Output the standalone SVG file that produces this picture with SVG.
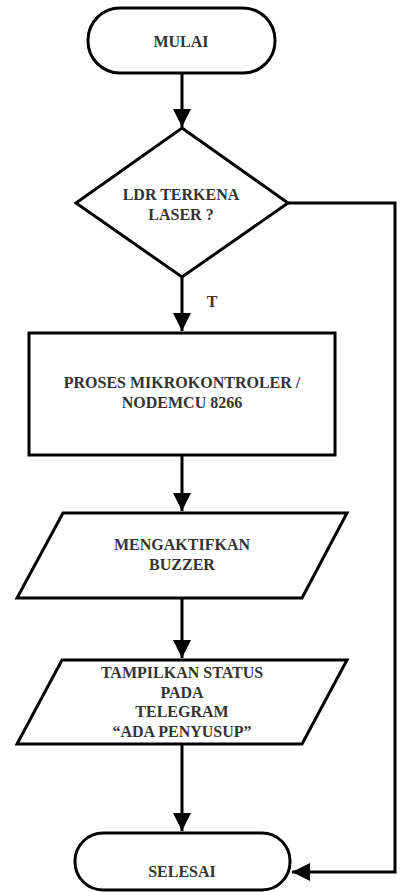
<svg xmlns="http://www.w3.org/2000/svg" width="403" height="892" viewBox="0 0 403 892">
<style>
.s{fill:#fff;stroke:#000;stroke-width:3;stroke-linejoin:miter}
.t{font-family:"Liberation Serif","Times New Roman",serif;font-weight:bold;font-size:16px;fill:#333;text-anchor:middle}
.c{fill:none;stroke:#000;stroke-width:3}
</style>
<defs>
<marker id="ah" markerWidth="6" markerHeight="6" refX="6" refY="3" orient="auto" markerUnits="strokeWidth">
<path d="M0,0 L6,3 L0,6 Z" fill="#000"/>
</marker>
</defs>
<rect width="403" height="892" fill="#fff"/>
<g id="connectors">
<line class="c" x1="182" y1="73" x2="182" y2="127" marker-end="url(#ah)"/>
<line class="c" x1="182" y1="277" x2="182" y2="331" marker-end="url(#ah)"/>
<line class="c" x1="182" y1="455" x2="182" y2="511" marker-end="url(#ah)"/>
<line class="c" x1="182" y1="598" x2="182" y2="658" marker-end="url(#ah)"/>
<line class="c" x1="182" y1="744" x2="182" y2="831" marker-end="url(#ah)"/>
<polyline class="c" points="288,203 395,203 395,872 292,872" marker-end="url(#ah)"/>
<text class="t" x="212" y="307">T</text>
</g>
<g id="mulai">
<rect class="s" x="88" y="8" width="187" height="65" rx="32"/>
<text class="t" x="181" y="47">MULAI</text>
</g>
<g id="decision">
<polygon class="s" points="182,128 288,203 182,277 76,203"/>
<text class="t" x="181" y="200">LDR TERKENA</text>
<text class="t" x="181" y="220">LASER ?</text>
</g>
<g id="proses">
<rect class="s" x="29" y="333" width="306" height="122"/>
<text class="t" x="182" y="388">PROSES MIKROKONTROLER /</text>
<text class="t" x="182" y="408">NODEMCU 8266</text>
</g>
<g id="buzzer">
<polygon class="s" points="63,513 347,513 302,598 17,598"/>
<text class="t" x="182" y="550">MENGAKTIFKAN</text>
<text class="t" x="182" y="570">BUZZER</text>
</g>
<g id="telegram">
<polygon class="s" points="62,660 347,660 302,744 17,744"/>
<text class="t" x="182" y="678">TAMPILKAN STATUS</text>
<text class="t" x="182" y="698">PADA</text>
<text class="t" x="182" y="717">TELEGRAM</text>
<text class="t" x="182" y="737">“ADA PENYUSUP”</text>
</g>
<g id="selesai">
<rect class="s" x="75" y="833" width="215" height="57" rx="28"/>
<text class="t" x="182" y="877">SELESAI</text>
</g>
</svg>
